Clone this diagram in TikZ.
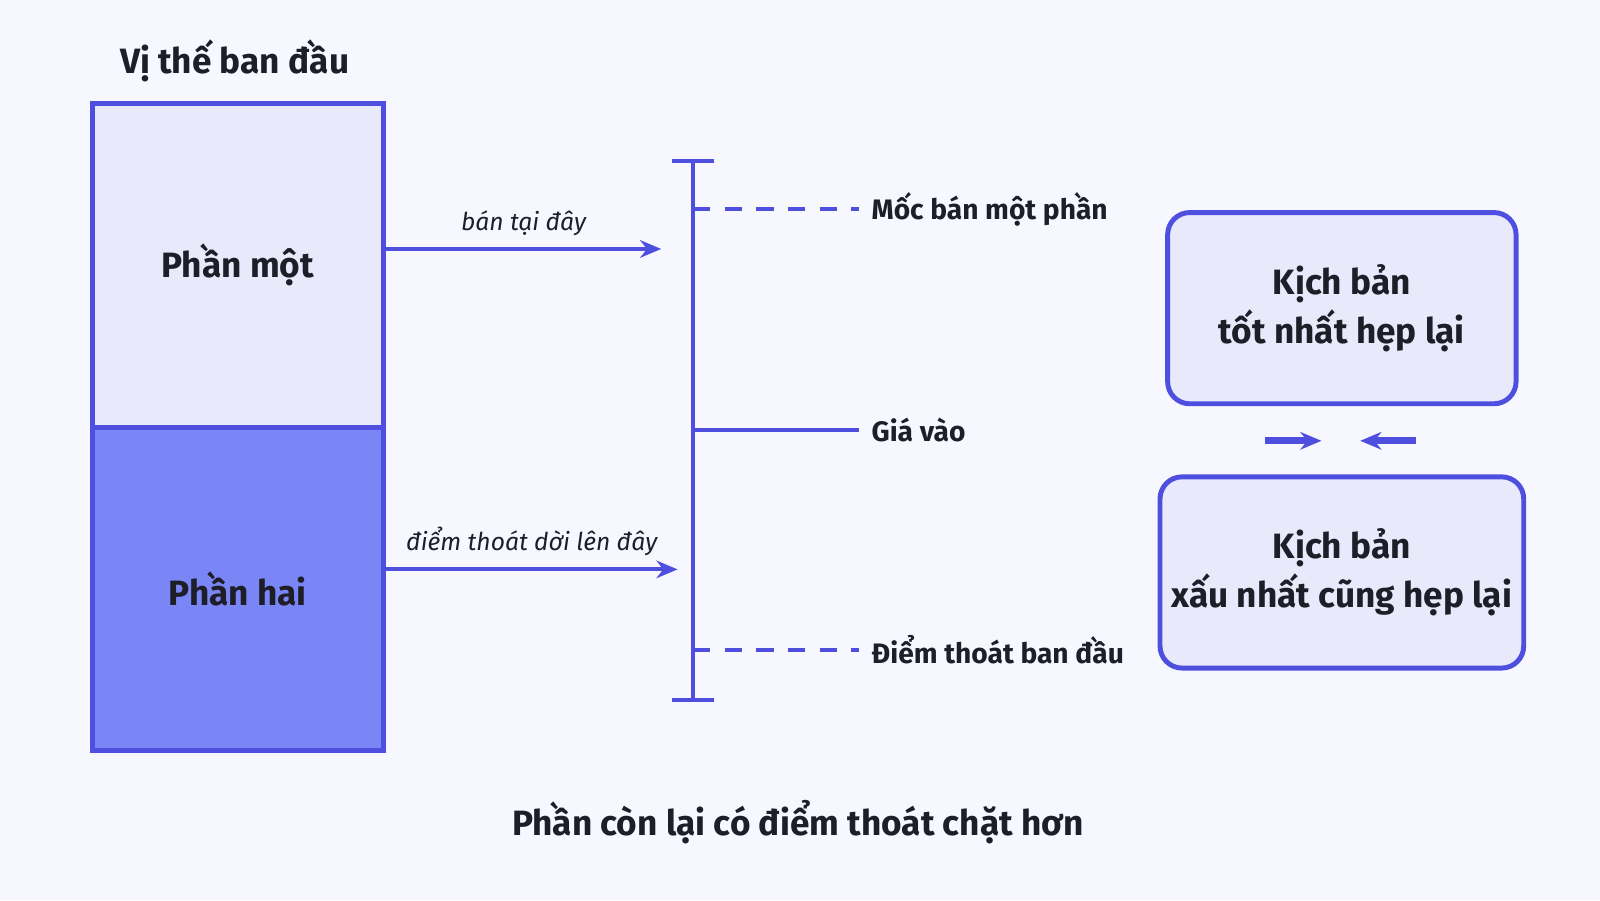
\documentclass[tikz,border=0pt]{standalone}
\usepackage{fontspec}
\setmainfont{Fira Sans}
\usetikzlibrary{positioning}
\usetikzlibrary{arrows.meta}
\definecolor{edge}{HTML}{4F4FDF}
\definecolor{pale}{HTML}{E8E9FB}
\definecolor{deep}{HTML}{7A86F5}
\definecolor{ink}{HTML}{1E1E28}
\tikzset{
	part/.style={draw=edge, line width=1.4pt, minimum width=2.91cm, minimum height=3.23cm, font=\bfseries, text=ink},
	scenario/.style={draw=edge, fill=pale, line width=1.4pt, rounded corners=0.22cm, minimum width=3.48cm, minimum height=1.91cm, align=center, font=\bfseries, text=ink},
	tag/.style={font=\bfseries\footnotesize, text=ink, anchor=west},
	note/.style={font=\itshape\scriptsize, text=ink, above},
	flow/.style={-{Stealth[length=6pt,width=5pt]}, draw=edge, line width=1.1pt},
	level/.style={draw=edge, line width=1.1pt}
}
\begin{document}
\begin{tikzpicture}[x=0.0102cm, y=-0.0102cm]
    \useasboundingbox [fill=white!97!blue] (0,0) rectangle (1568,882);

    \node [font=\bfseries, text=ink] (title) at (230,60) {Vị thế ban đầu};
    \node [part, fill=pale] (one) at (233,260) {Phần một};
    \node [part, fill=deep] (two) at (233,577) {Phần hai};

    % thang giá
    \coordinate (top) at (679,158);
    \coordinate (bot) at (679,686);
    \draw [level] (top) -- (bot);
    \draw [level] ([xshift=-6]top) -- ([xshift=6]top);
    \draw [level] ([xshift=-6]bot) -- ([xshift=6]bot);

    \coordinate (sell) at (679,205);
    \coordinate (entry) at (679,421);
    \coordinate (stop) at (679,637);
    \node [tag] (sell-label) at (842,205) {Mốc bán một phần};
    \node [tag] (entry-label) at (842,421) {Giá vào};
    \node [tag] (stop-label) at (842,637) {Điểm thoát ban đầu};
    \draw [level, dash pattern=on 5pt off 4pt] (sell) -- (sell-label.west);
    \draw [level] (entry) -- (entry-label.west);
    \draw [level, dash pattern=on 5pt off 4pt] (stop) -- (stop-label.west);

    \coordinate (sell-tip) at (648,244);
    \coordinate (stop-tip) at (664,558);
    \draw [flow] (one.east |- sell-tip) -- node [note] {bán tại đây} (sell-tip);
    \draw [flow] (two.east |- stop-tip) -- node [note] {điểm thoát dời lên đây} (stop-tip);

    \node [scenario] (best) at (1315,302) {Kịch bản\\[2pt]tốt nhất hẹp lại};
    \node [scenario] (worst) at (1315,561) {Kịch bản\\[2pt]xấu nhất cũng hẹp lại};
    \coordinate (left-in) at (1240,432);
    \coordinate (left-out) at (1295,432);
    \coordinate (right-in) at (1388,432);
    \coordinate (right-out) at (1333,432);
    \draw [flow, line width=2pt] (left-in) -- (left-out);
    \draw [flow, line width=2pt] (right-in) -- (right-out);

    \node [font=\bfseries, text=ink] (caption) at (782,806) {Phần còn lại có điểm thoát chặt hơn};
\end{tikzpicture}
\end{document}
